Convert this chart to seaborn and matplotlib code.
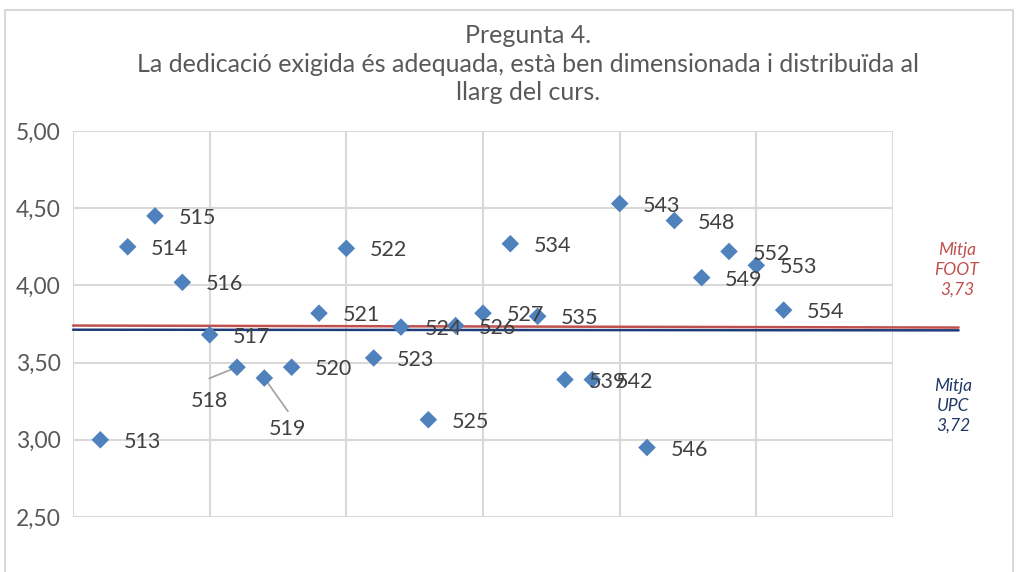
import matplotlib
matplotlib.use("Agg")
import matplotlib.pyplot as plt
import seaborn as sns
import pandas as pd
from matplotlib.patches import Rectangle

# ---- data ----
codes = ["513", "514", "515", "516", "517", "518", "519", "520", "521", "522",
         "523", "524", "525", "526", "527", "534", "535", "539", "542", "543",
         "546", "548", "549", "552", "553", "554"]
xpos = list(range(1, len(codes) + 1))
scores = [3.00, 4.25, 4.45, 4.02, 3.68, 3.47, 3.40, 3.47, 3.82, 4.24,
          3.53, 3.73, 3.13, 3.74, 3.82, 4.27, 3.80, 3.39, 3.39, 4.53,
          2.95, 4.42, 4.05, 4.22, 4.13, 3.84]
foot_line_x = [0, 32.4]
foot_line_y = [3.740, 3.727]
upc_line_x = [0, 32.4]
upc_line_y = [3.713, 3.709]
foot_mean = "3,73"
upc_mean = "3,72"
title_text = "Pregunta 4.\nLa dedicació exigida és adequada, està ben dimensionada i distribuïda al\nllarg del curs."
yticks = [2.5, 3.0, 3.5, 4.0, 4.5, 5.0]

df = pd.DataFrame({"x": xpos, "score": scores, "code": codes})

sns.set_style("white")
plt.rcParams["font.family"] = ["Lato", "DejaVu Sans"]

fig = plt.figure(figsize=(10.17, 5.72), dpi=100)
ax = fig.add_axes([73 / 1017, 55 / 572, 820 / 1017, 386 / 572])

grid_c = "#D9D9D9"
ax.set_xlim(0, 30)
ax.set_ylim(2.5, 5.0)
ax.set_xticks([0, 5, 10, 15, 20, 25, 30])
ax.set_yticks(yticks)
ax.grid(True, color=grid_c, linewidth=1.5)
for s in ax.spines.values():
    s.set_visible(False)
ax.tick_params(axis="x", length=0, labelbottom=False)
ax.tick_params(axis="y", length=6, width=1.5, color=grid_c, labelsize=16.5,
               labelcolor="#595959", pad=3)
ax.set_yticklabels([f"{v:.2f}".replace(".", ",") for v in yticks])

# mean lines
ax.plot(foot_line_x, foot_line_y, color="#C0504D", lw=1.8, clip_on=False, zorder=3)
ax.plot(upc_line_x, upc_line_y, color="#203C78", lw=1.8, clip_on=False, zorder=3)

sns.scatterplot(data=df, x="x", y="score", marker="D", s=80, color="#4F81BD",
                edgecolor="none", ax=ax, zorder=4, clip_on=False)
ax.set_xlabel("")
ax.set_ylabel("")

# data labels: special ones have (text offset, leader-line start offset) in points
special = {"518": ((-20, -24), (-20, -8)), "519": ((17, -37), (17, -24))}
for xv, yv, c in zip(xpos, scores, codes):
    if c in special:
        (tx, ty), (lx, ly) = special[c]
        ax.annotate("", (xv, yv), xytext=(lx, ly), textcoords="offset points",
                    arrowprops=dict(arrowstyle="-", color="#A6A6A6", lw=1.3,
                                    shrinkA=0, shrinkB=1), zorder=3.5)
        ax.annotate(c, (xv, yv), xytext=(tx, ty), textcoords="offset points",
                    ha="center", va="center", fontsize=15.5, color="#404040", zorder=5)
    else:
        ax.annotate(c, (xv, yv), xytext=(17, -1.5), textcoords="offset points",
                    ha="left", va="center", fontsize=15.5, color="#404040", zorder=5)

# title
fig.text(528 / 1017, 1 - 64 / 572, title_text, ha="center", va="center",
         fontsize=18, color="#595959", linespacing=1.3)

# mean labels
fig.text(957 / 1017, 1 - 270 / 572, f"Mitja\nFOOT\n{foot_mean}", ha="center",
         va="center", fontsize=12.5, style="italic", color="#C0504D", linespacing=1.3)
fig.text(953 / 1017, 1 - 406 / 572, f"Mitja\nUPC\n{upc_mean}", ha="center",
         va="center", fontsize=12.5, style="italic", color="#1F3864", linespacing=1.3)

# chart border
fig.patches.append(Rectangle((5 / 1017, -0.05), 1008 / 1017, 1.05 - 10 / 572,
                             transform=fig.transFigure, fill=False,
                             edgecolor="#D9D9D9", lw=1.5))

fig.savefig("out.png", dpi=100, facecolor="white")
